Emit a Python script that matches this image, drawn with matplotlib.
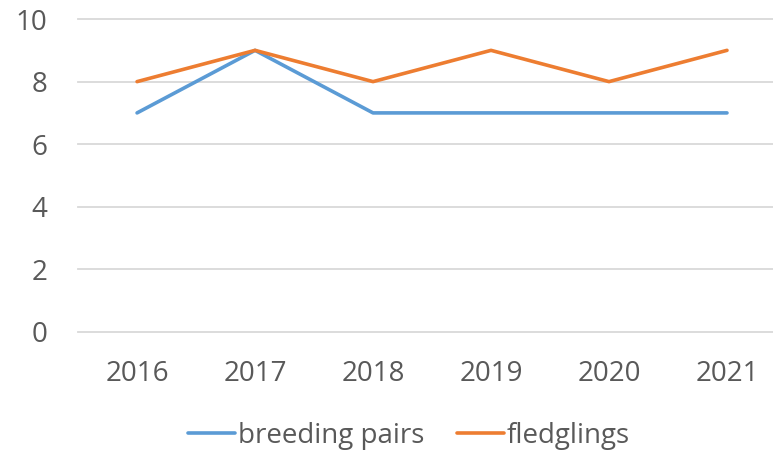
import matplotlib
matplotlib.use("Agg")
import matplotlib.pyplot as plt

# ---------------------------------------------------------------------------
# Data
# ---------------------------------------------------------------------------

years = ["2016", "2017", "2018", "2019", "2020", "2021"]
breeding_pairs = [7, 9, 7, 7, 7, 7]
fledglings = [8, 9, 8, 9, 8, 9]

BLUE = "#5B9BD5"
ORANGE = "#ED7D31"
TEXT = "#595959"

plt.rcParams.update({
    "font.family": ["Open Sans", "DejaVu Sans"],
    "font.size": 20,
})

fig = plt.figure(figsize=(7.73, 4.54), dpi=100)
ax = fig.add_axes([0.101, 0.269, 0.899, 0.689])

x = range(len(years))
ax.plot(x, breeding_pairs, color=BLUE, linewidth=2.6, label="breeding pairs",
        solid_capstyle="round")
ax.plot(x, fledglings, color=ORANGE, linewidth=2.6, label="fledglings",
        solid_capstyle="round")

ax.set_ylim(0, 10)
ax.set_yticks(range(0, 11, 2))
ax.set_xlim(-0.5, 5.39)
ax.set_xticks(list(x))
ax.set_xticklabels(years)

for yv in range(0, 11, 2):
    ax.axhline(yv, color="#D9D9D9", linewidth=1.3, zorder=0, clip_on=False)
for s in ax.spines.values():
    s.set_visible(False)
ax.tick_params(axis="both", length=0, colors=TEXT, labelsize=20)
ax.tick_params(axis="x", pad=20)
ax.tick_params(axis="y", pad=22)

fig.legend(loc="center", bbox_to_anchor=(0.529, 0.04), ncol=2, frameon=False,
           handlelength=1.7, columnspacing=1.15, handletextpad=0.12,
           labelcolor=TEXT, fontsize=20)

fig.savefig("out.png", dpi=100)
